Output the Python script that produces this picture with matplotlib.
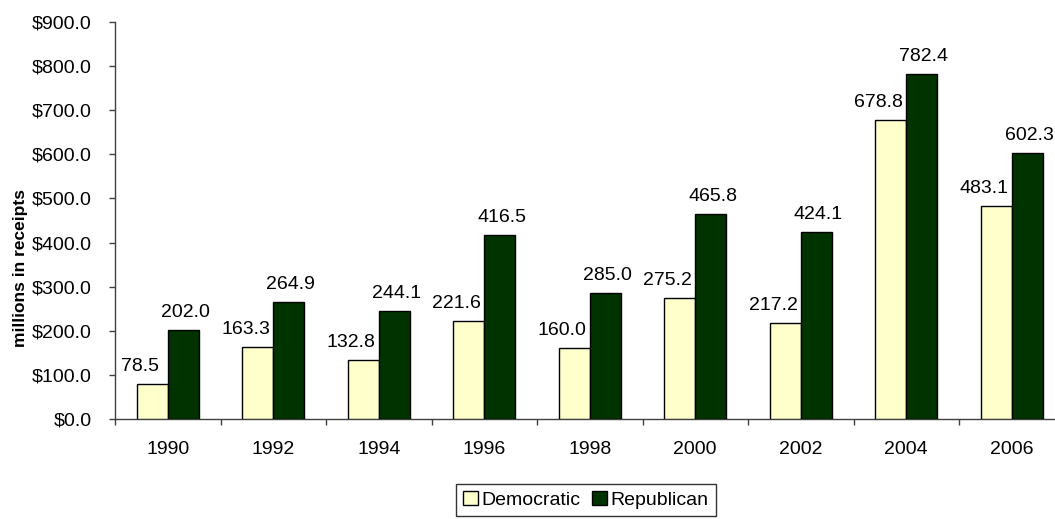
import matplotlib
matplotlib.use("Agg")
import matplotlib.pyplot as plt
import numpy as np
from matplotlib.patches import Patch

years = ["1990", "1992", "1994", "1996", "1998", "2000", "2002", "2004", "2006"]
democratic = [78.5, 163.3, 132.8, 221.6, 160.0, 275.2, 217.2, 678.8, 483.1]
republican = [202.0, 264.9, 244.1, 416.5, 285.0, 465.8, 424.1, 782.4, 602.3]
y_ticks = [0, 100, 200, 300, 400, 500, 600, 700, 800, 900]

plt.rcParams['font.family'] = ['Liberation Sans', 'DejaVu Sans']

W, H = 1055, 519
fig = plt.figure(figsize=(W / 100, H / 100), dpi=100)
left, right, top, bottom = 115, 1064.5, 22, 419
ax = fig.add_axes([left / W, 1 - bottom / H, (right - left) / W, (bottom - top) / H])

x = np.arange(len(years))
bw = 0.294
dem_color = "#FFFFCC"
rep_color = "#003300"
ax.bar(x - bw / 2, democratic, bw, color=dem_color, edgecolor="black", linewidth=1.0, zorder=3)
ax.bar(x + bw / 2, republican, bw, color=rep_color, edgecolor="black", linewidth=1.0, zorder=3)

fs = 14
for xi, v in zip(x, democratic):
    ax.annotate(f"{v:.1f}", (xi - bw / 2, v), xytext=(-12, 9), textcoords="offset pixels",
                ha="center", va="bottom", fontsize=fs, annotation_clip=False)
for xi, v in zip(x, republican):
    ax.annotate(f"{v:.1f}", (xi + bw / 2, v), xytext=(2, 9), textcoords="offset pixels",
                ha="center", va="bottom", fontsize=fs, annotation_clip=False)

ax.set_xlim(-0.5, len(years) - 0.5)
ax.set_ylim(0, 900)
ax.set_yticks(y_ticks)
ax.set_yticklabels([f"${v:.1f}" for v in y_ticks], fontsize=fs)
ax.set_xticks(x)
ax.set_xticklabels(years, fontsize=fs)
ax.set_xticks(np.arange(len(years) + 1) - 0.5, minor=True)
ax.tick_params(axis="x", which="major", length=0, pad=16)
ax.tick_params(axis="x", which="minor", length=4, width=1, color="#404040", direction="out")
ax.tick_params(axis="y", which="major", length=4, width=1, color="#404040", direction="out", pad=13)

for s in ["top", "right"]:
    ax.spines[s].set_visible(False)
for s in ["left", "bottom"]:
    ax.spines[s].set_color("#404040")
    ax.spines[s].set_linewidth(1.0)

ax.set_ylabel("millions in receipts", fontsize=12.5, fontweight="bold")
ax.yaxis.set_label_coords(-87 / (right - left), (bottom - 268) / (bottom - top))

handles = [Patch(facecolor=dem_color, edgecolor="black", linewidth=1.0, label="Democratic"),
           Patch(facecolor=rep_color, edgecolor="black", linewidth=1.0, label="Republican")]
leg = fig.legend(handles=handles, loc="upper center", bbox_to_anchor=(586 / W, 1 - 484 / H),
                 ncol=2, fontsize=fs, frameon=True, fancybox=False, edgecolor="black",
                 handlelength=0.75, handleheight=0.75, handletextpad=0.2, columnspacing=0.6,
                 borderpad=0.35, borderaxespad=0)
leg.get_frame().set_linewidth(1.0)

fig.savefig("out.png", dpi=100)
